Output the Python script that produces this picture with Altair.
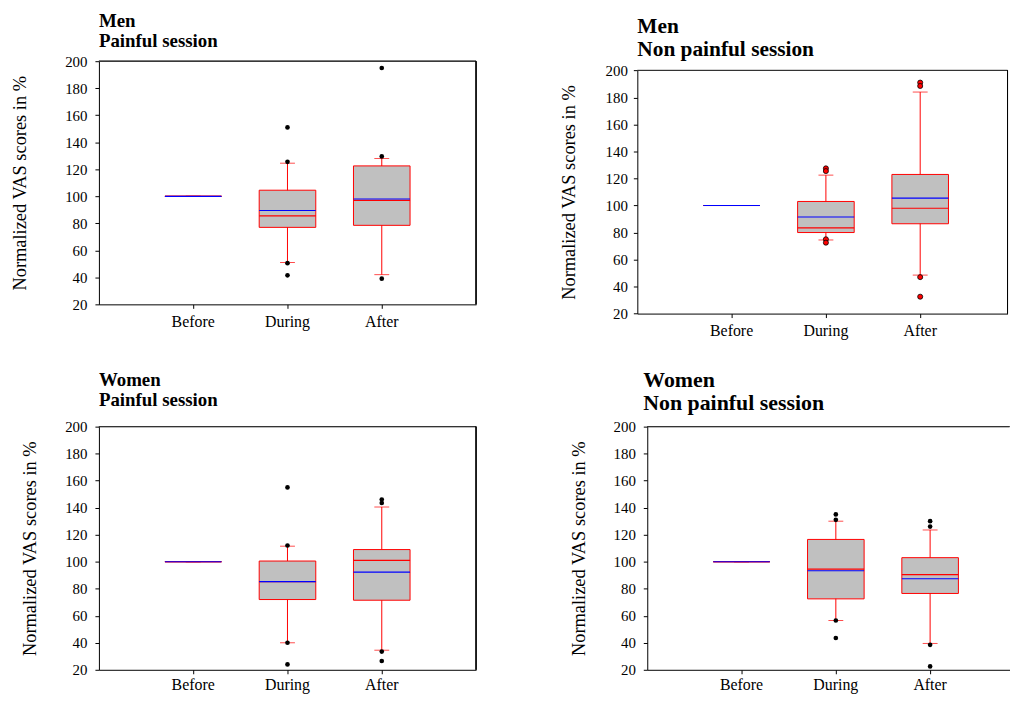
import altair as alt
import pandas as pd

categories = ["Before", "During", "After"]

titles = [["Men", "Painful session"], ["Men", "Non painful session"],
          ["Women", "Painful session"], ["Women", "Non painful session"]]
y_title = "Normalized VAS scores in %"
y_ticks = [20, 40, 60, 80, 100, 120, 140, 160, 180, 200]

# Men, painful session
p1_low = [100, 51.0, 42.0]
p1_q1 = [100, 77.0, 78.5]
p1_med = [100, 85.5, 97.0]
p1_mean = [100, 89.5, 98.0]
p1_q3 = [100, 104.5, 122.5]
p1_high = [100, 124.5, 128.0]
p1_out_cat = ["During", "During", "During", "During", "After", "After", "After"]
p1_out_val = [151.0, 125.5, 50.5, 41.5, 195.0, 129.5, 39.0]

# Men, non painful session
p2_low = [100, 74.5, 48.5]
p2_q1 = [100, 80.0, 86.5]
p2_med = [100, 83.5, 98.0]
p2_mean = [100, 91.5, 105.5]
p2_q3 = [100, 103.0, 123.0]
p2_high = [100, 122.5, 184.0]
p2_out_cat = ["During", "During", "During", "During", "After", "After", "After", "After"]
p2_out_val = [127.5, 125.5, 75.0, 72.5, 191.0, 188.5, 47.0, 32.5]

# Women, painful session
p3_low = [100, 40.0, 34.5]
p3_q1 = [100, 72.0, 71.5]
p3_med = [100, 85.2, 101.0]
p3_mean = [100, 85.2, 92.3]
p3_q3 = [100, 100.5, 109.0]
p3_high = [100, 111.5, 140.5]
p3_out_cat = ["During", "During", "During", "During", "After", "After", "After", "After"]
p3_out_val = [155.0, 112.0, 40.0, 24.0, 146.0, 143.5, 33.5, 26.5]

# Women, non painful session
p4_low = [100, 56.5, 39.5]
p4_q1 = [100, 72.5, 76.5]
p4_med = [100, 94.5, 90.5]
p4_mean = [100, 93.3, 87.4]
p4_q3 = [100, 116.5, 103.0]
p4_high = [100, 130.0, 123.5]
p4_out_cat = ["During", "During", "During", "During", "After", "After", "After", "After"]
p4_out_val = [135.0, 131.0, 56.5, 43.5, 130.0, 126.0, 38.5, 22.5]

FONT = "Liberation Serif"
PH = 245


def panel(low, q1, med, mean, q3, high, out_cat, out_val, title,
          tsize, tlh, toff, tdx, top_off, title_x, lab_pad, red_out,
          view_w, pad_outer, band_align, right_border, xlab_pad):
    H = PH + top_off
    stats = pd.DataFrame({"cat": categories, "low": low, "q1": q1, "med": med,
                          "mean": mean, "q3": q3, "high": high})
    outs = pd.DataFrame({"cat": out_cat, "val": out_val})
    xs = alt.Scale(domain=categories, paddingInner=0.4, paddingOuter=pad_outer,
                   align=band_align)
    xa = alt.Axis(title=None, labelAngle=0, labelFont=FONT, labelFontSize=16,
                  labelColor="black", tickColor="black", tickSize=4,
                  domainColor="black", labelPadding=xlab_pad)
    ys = alt.Scale(domain=[20, 200], range=[H, top_off], nice=False, zero=False)
    ya = alt.Axis(values=y_ticks, format="d", title=y_title, titleFont=FONT,
                  titleFontSize=18.5, titleFontWeight="normal", titleColor="black",
                  titleX=-title_x, titleY=top_off + PH / 2, titleBaseline="middle",
                  labelFont=FONT, labelFontSize=15, labelColor="black",
                  labelPadding=lab_pad, tickSize=4, tickColor="black",
                  domainColor="black", grid=False)
    X = alt.X("cat:N", scale=xs, axis=xa)

    def Y(f):
        return alt.Y(f + ":Q", scale=ys, axis=ya)

    base = alt.Chart(stats)
    whisk = base.mark_rule(color="red", strokeWidth=1).encode(x=X, y=Y("low"), y2="high")
    cap_lo = base.mark_tick(color="red", size=15, thickness=1).encode(x=X, y=Y("low"))
    cap_hi = base.mark_tick(color="red", size=15, thickness=1).encode(x=X, y=Y("high"))
    box = base.mark_bar(fill="#c0c0c0", stroke="red", strokeWidth=1).encode(
        x=X, y=Y("q1"), y2="q3")
    med_l = base.mark_tick(color="red", size=57, thickness=1.2, opacity=1).encode(x=X, y=Y("med"))
    mean_l = base.mark_tick(color="blue", size=57, thickness=1.2, opacity=1).encode(x=X, y=Y("mean"))
    if red_out:
        pts = alt.Chart(outs).mark_point(filled=True, fill="red", stroke="black",
                                         strokeWidth=0.8, size=26, opacity=1)
    else:
        pts = alt.Chart(outs).mark_circle(color="black", size=22, opacity=1)
    pts = pts.encode(x=X, y=Y("val"))
    top = base.mark_rule(color="#333333", strokeWidth=1).encode(
        y=alt.YDatum(200, scale=ys, axis=ya))
    layers = [whisk, cap_lo, cap_hi, box, med_l, mean_l, pts, top]
    if right_border:
        layers.append(base.mark_rule(color="black", strokeWidth=1).encode(
            x=alt.value(view_w), y=alt.YDatum(20, scale=ys, axis=ya), y2=alt.Y2Datum(200)))
    return alt.layer(*layers).properties(
        width=view_w, height=H,
        title=alt.Title(text=title, anchor="start", frame="group", font=FONT,
                        fontSize=tsize, fontWeight="bold", lineHeight=tlh,
                        offset=toff, color="black", dx=tdx))


p1 = panel(p1_low, p1_q1, p1_med, p1_mean, p1_q3, p1_high, p1_out_cat, p1_out_val,
           titles[0], 19, 20, 3.6, 0, 0, 79.5, 8, False, 380, 0.7, 0.5, True, 5)
p2 = panel(p2_low, p2_q1, p2_med, p2_mean, p2_q3, p2_high, p2_out_cat, p2_out_val,
           titles[1], 21.5, 23, 0.5, 0, 9.3, 69.5, 6, True, 373, 0.6632, 0.5278, True, 5)
p3 = panel(p3_low, p3_q1, p3_med, p3_mean, p3_q3, p3_high, p3_out_cat, p3_out_val,
           titles[2], 19, 20, 9.5, 0, 0, 70, 8, False, 380, 0.7, 0.5, True, 3)
p4 = panel(p4_low, p4_q1, p4_med, p4_mean, p4_q3, p4_high, p4_out_cat, p4_out_val,
           titles[3], 22, 23, 4.5, -4, 0, 69.5, 8, False, 365, 0.621, 0.5636, False, 3)

row1 = alt.hconcat(p1, p2, spacing=81.5)
row2 = alt.hconcat(p3, p4, spacing=91.5)
chart = alt.vconcat(row1, row2, spacing=30.2).configure_view(
    stroke="transparent").properties(
    padding={"left": 1.6, "top": 0, "right": 0, "bottom": 0})

chart.save("out.html", embed_options={"renderer": "svg", "actions": False})
